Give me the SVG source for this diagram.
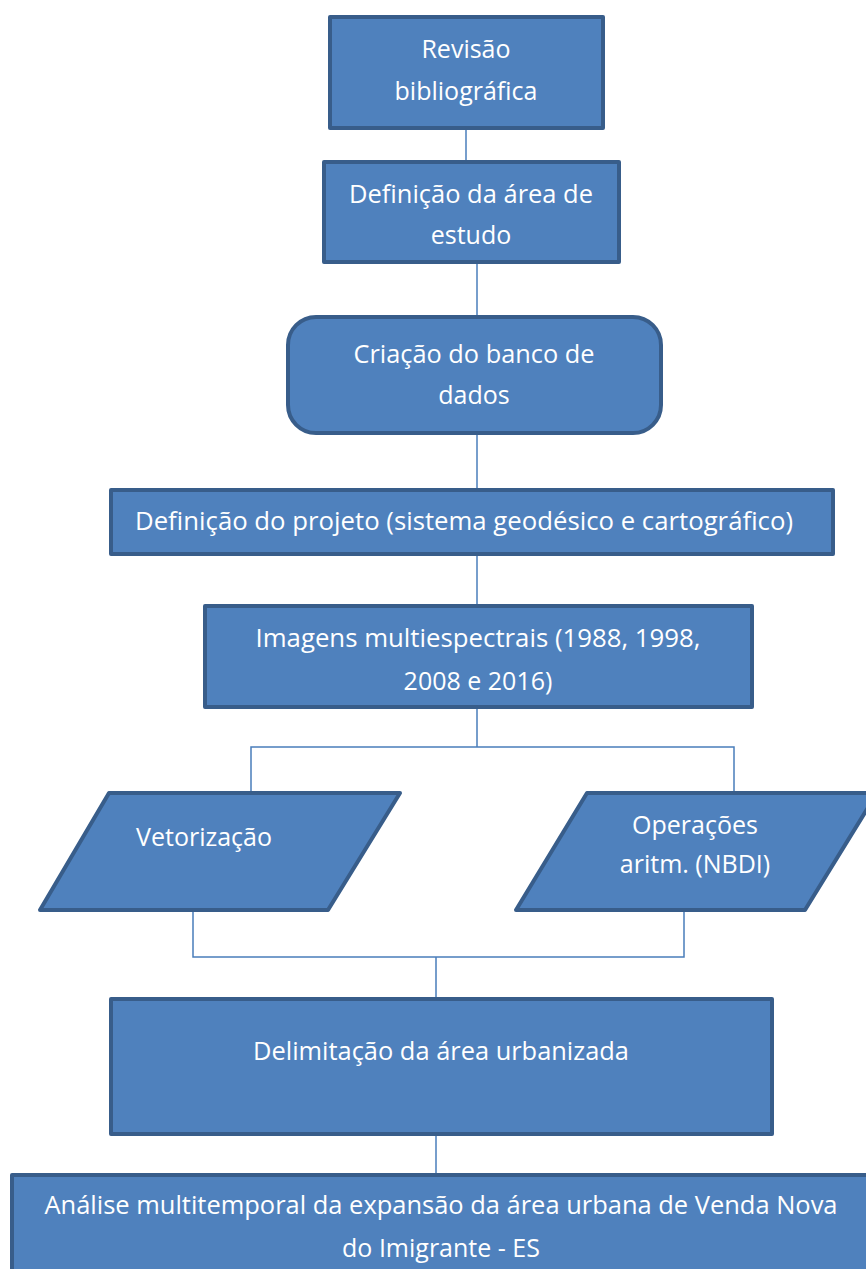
<svg xmlns="http://www.w3.org/2000/svg" width="866" height="1269" viewBox="0 0 866 1269">
<style>
.n{fill:#4f81bd;stroke:#385d8a;stroke-width:4;stroke-linejoin:round}
.t{fill:#ffffff;font-family:"Open Sans","Liberation Sans",sans-serif;font-size:25px;text-anchor:middle}
.c{fill:none;stroke:#4a7ebb;stroke-width:1.5}
</style>
<rect width="866" height="1269" fill="#ffffff"/>
<g id="connectors">
<path class="c" d="M466 128V162"/>
<path class="c" d="M477 262V317"/>
<path class="c" d="M477 433V490"/>
<path class="c" d="M477 554V606"/>
<path class="c" d="M477 707V747M251 793V747H734V793"/>
<path class="c" d="M193 910V957H684V910M436 957V999"/>
<path class="c" d="M436 1134V1175"/>
</g>
<g id="n1"><rect class="n" x="330" y="17" width="273" height="111"/>
<text class="t" x="466" y="58">Revisão</text><text class="t" x="466" y="100">bibliográfica</text></g>
<g id="n2"><rect class="n" x="324" y="162" width="295" height="100"/>
<text class="t" x="471" y="203" textLength="244" lengthAdjust="spacingAndGlyphs">Definição da área de</text><text class="t" x="471" y="244">estudo</text></g>
<g id="n3"><rect class="n" x="288" y="317" width="373" height="116" rx="28"/>
<text class="t" x="474" y="363" textLength="241" lengthAdjust="spacingAndGlyphs">Criação do banco de</text><text class="t" x="474" y="404">dados</text></g>
<g id="n4"><rect class="n" x="111" y="490" width="722" height="64"/>
<text class="t" x="464" y="530" textLength="658" lengthAdjust="spacingAndGlyphs">Definição do projeto (sistema geodésico e cartográfico)</text></g>
<g id="n5"><rect class="n" x="205" y="606" width="547" height="101"/>
<text class="t" x="478" y="647" textLength="445" lengthAdjust="spacingAndGlyphs">Imagens multiespectrais (1988, 1998,</text><text class="t" x="478" y="690">2008 e 2016)</text></g>
<g id="n6"><polygon class="n" points="109,793 400,793 328,910 40,910"/>
<text class="t" x="204" y="846">Vetorização</text></g>
<g id="n7"><polygon class="n" points="587,793 877,793 805,910 516,910"/>
<text class="t" x="695" y="834">Operações</text><text class="t" x="695" y="873">aritm. (NBDI)</text></g>
<g id="n8"><rect class="n" x="111" y="999" width="661" height="135"/>
<text class="t" x="441" y="1060" textLength="376" lengthAdjust="spacingAndGlyphs">Delimitação da área urbanizada</text></g>
<g id="n9"><rect class="n" x="12" y="1175" width="870" height="120"/>
<text class="t" x="441" y="1214" textLength="793" lengthAdjust="spacingAndGlyphs">Análise multitemporal da expansão da área urbana de Venda Nova</text><text class="t" x="441" y="1257">do Imigrante - ES</text></g>
</svg>
